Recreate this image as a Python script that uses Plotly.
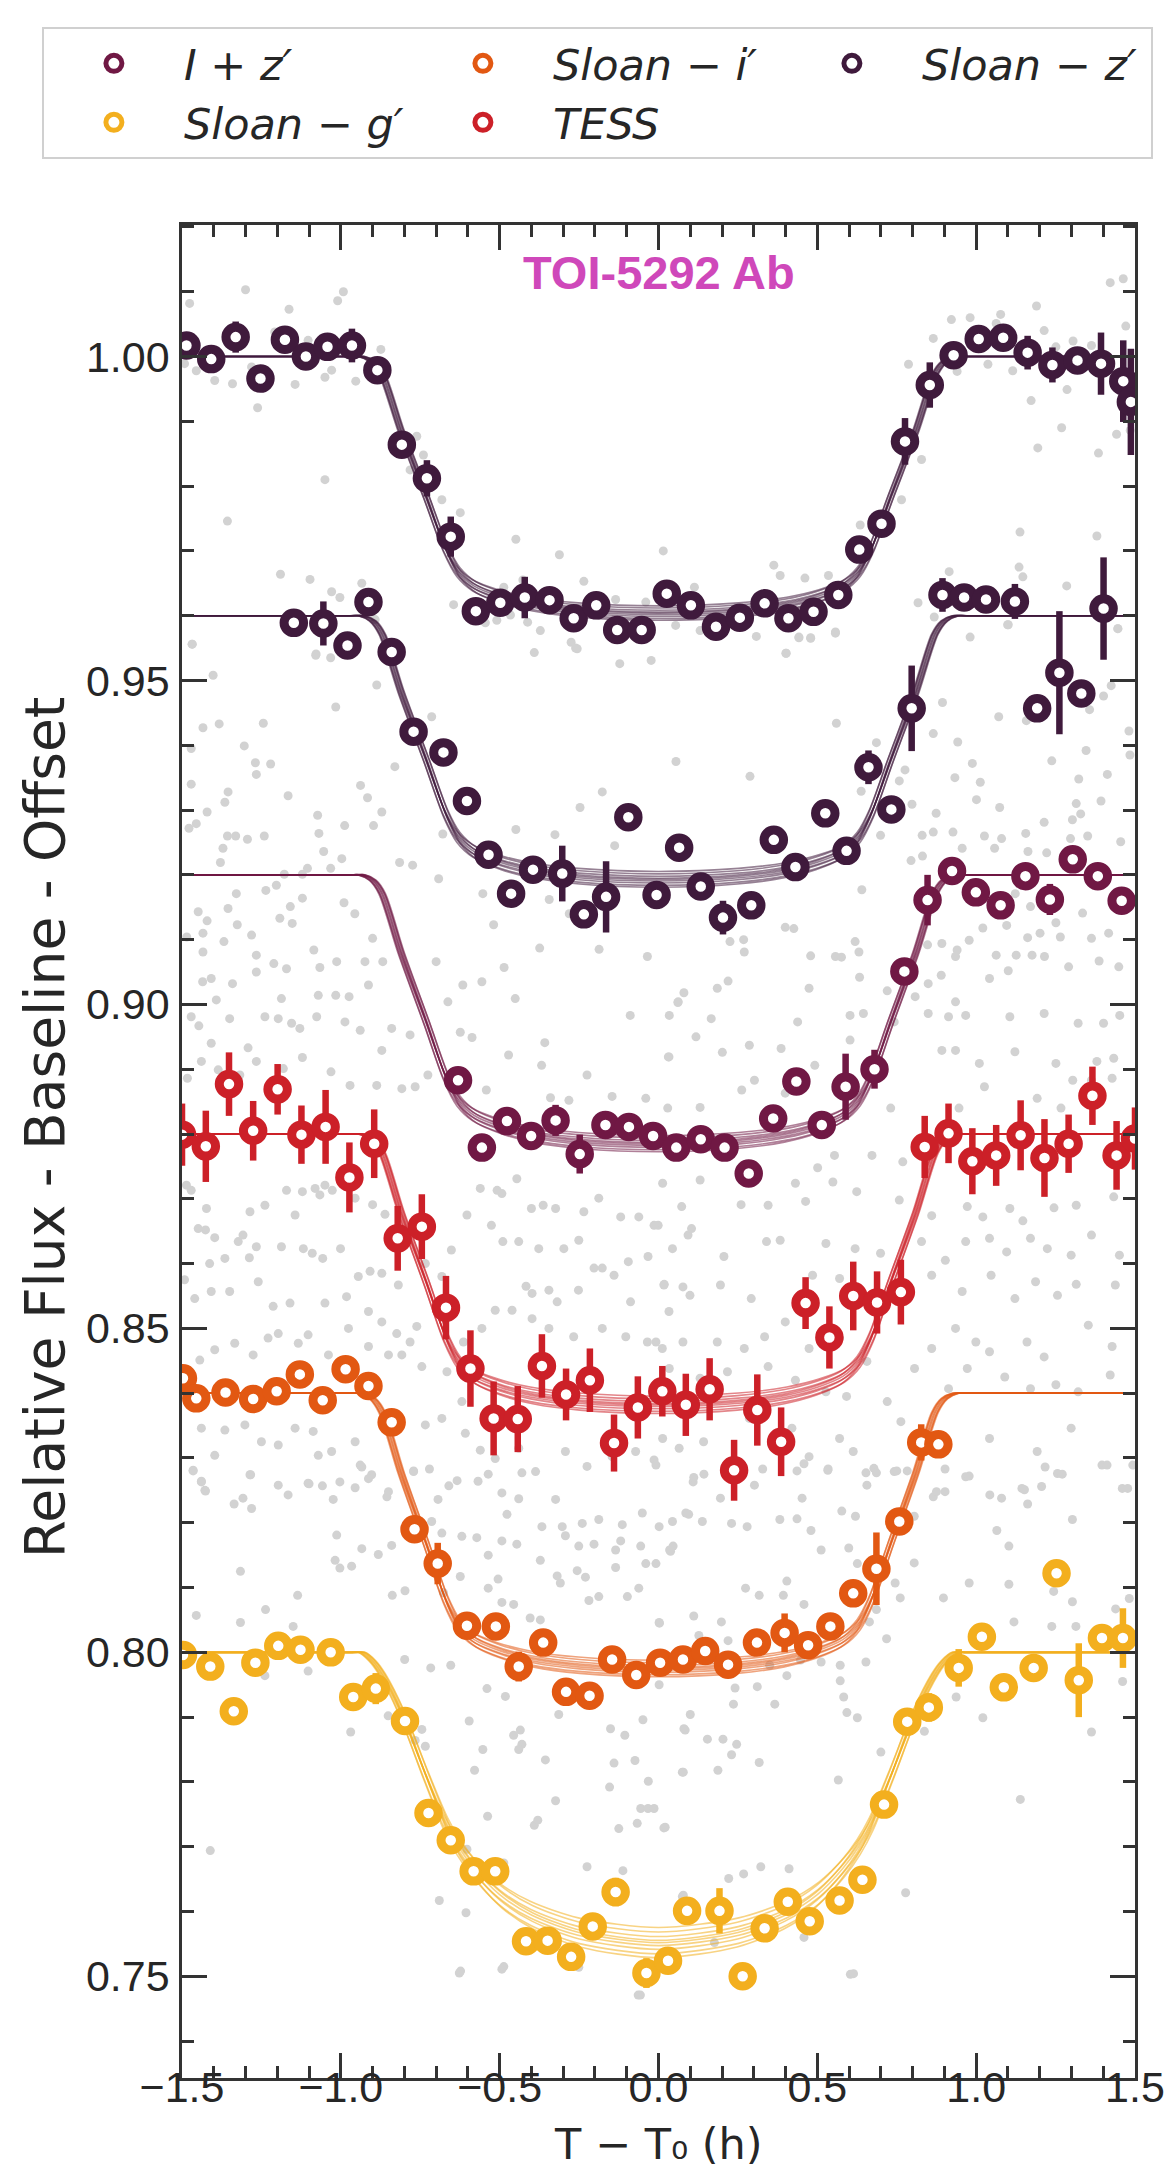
import plotly.graph_objects as go

# ---------------------------------------------------------------------------
# binned light curves (flux already shifted down by each curve's offset)
# ---------------------------------------------------------------------------

# Sloan-z', first night, baseline 1.00
zs1_t = [-1.486, -1.408, -1.331, -1.253, -1.176, -1.110, -1.042, -0.965, -0.885, -0.808,
         -0.729, -0.654, -0.575, -0.498, -0.421, -0.343, -0.267, -0.196, -0.130, -0.053,
         0.026, 0.102, 0.181, 0.256, 0.334, 0.409, 0.488, 0.566, 0.632, 0.702,
         0.776, 0.854, 0.929, 1.008, 1.085, 1.162, 1.240, 1.319, 1.393, 1.463, 1.487]
zs1_f = [1.0017, 0.9996, 1.0030, 0.9966, 1.0026, 1.0000, 1.0015, 1.0017, 0.9979, 0.9864,
         0.9812, 0.9722, 0.9607, 0.9620, 0.9628, 0.9624, 0.9596, 0.9616, 0.9578, 0.9578,
         0.9634, 0.9616, 0.9583, 0.9597, 0.9619, 0.9596, 0.9606, 0.9632, 0.9702, 0.9742,
         0.9869, 0.9956, 1.0002, 1.0027, 1.0029, 1.0006, 0.9987, 0.9994, 0.9989, 0.9962, 0.9930]
zs1_e = [0.0015, 0.0015, 0.0024, 0.0015, 0.0015, 0.0015, 0.0018, 0.0026, 0.0015, 0.0015,
         0.0028, 0.0031, 0.0015, 0.0015, 0.0032, 0.0015, 0.0015, 0.0015, 0.0015, 0.0015,
         0.0015, 0.0015, 0.0015, 0.0015, 0.0015, 0.0015, 0.0015, 0.0015, 0.0015, 0.0015,
         0.0036, 0.0035, 0.0015, 0.0015, 0.0015, 0.0026, 0.0027, 0.0015, 0.0048, 0.0063, 0.0082]

# Sloan-z', second night, baseline 0.96
zs2_t = [-1.148, -1.055, -0.979, -0.913, -0.840, -0.771, -0.677, -0.603, -0.535, -0.464,
         -0.395, -0.303, -0.235, -0.165, -0.095, -0.006, 0.065, 0.133, 0.203, 0.292,
         0.363, 0.431, 0.525, 0.592, 0.661, 0.733, 0.797, 0.894, 0.962, 1.031,
         1.122, 1.192, 1.262, 1.331, 1.401]
zs2_f = [0.9589, 0.9588, 0.9554, 0.9621, 0.9544, 0.9421, 0.9389, 0.9314, 0.9231, 0.9171,
         0.9208, 0.9202, 0.9139, 0.9166, 0.9289, 0.9169, 0.9242, 0.9182, 0.9134, 0.9153,
         0.9254, 0.9212, 0.9295, 0.9237, 0.9366, 0.9301, 0.9457, 0.9632, 0.9628, 0.9625,
         0.9622, 0.9457, 0.9512, 0.9480, 0.9611]
zs2_e = [0.0015, 0.0034, 0.0015, 0.0015, 0.0015, 0.0015, 0.0015, 0.0015, 0.0015, 0.0015,
         0.0015, 0.0043, 0.0015, 0.0055, 0.0015, 0.0015, 0.0015, 0.0015, 0.0026, 0.0015,
         0.0015, 0.0015, 0.0015, 0.0015, 0.0026, 0.0015, 0.0066, 0.0026, 0.0015, 0.0015,
         0.0027, 0.0015, 0.0095, 0.0015, 0.0079]

# I+z', baseline 0.92
iz_t = [-0.631, -0.556, -0.477, -0.401, -0.324, -0.248, -0.167, -0.093, -0.017, 0.056,
        0.133, 0.208, 0.284, 0.361, 0.434, 0.514, 0.589, 0.680, 0.774, 0.847,
        0.924, 0.999, 1.077, 1.155, 1.232, 1.304, 1.383, 1.458]
iz_f = [0.8883, 0.8779, 0.8820, 0.8797, 0.8821, 0.8769, 0.8814, 0.8811, 0.8797, 0.8779,
        0.8792, 0.8779, 0.8739, 0.8824, 0.8881, 0.8814, 0.8873, 0.8900, 0.9051, 0.9161,
        0.9206, 0.9173, 0.9153, 0.9198, 0.9162, 0.9224, 0.9198, 0.9160]
iz_e = [0.0015, 0.0015, 0.0015, 0.0015, 0.0024, 0.0030, 0.0015, 0.0015, 0.0015, 0.0015,
        0.0015, 0.0015, 0.0015, 0.0015, 0.0015, 0.0015, 0.0051, 0.0030, 0.0015, 0.0039,
        0.0015, 0.0015, 0.0015, 0.0015, 0.0024, 0.0015, 0.0015, 0.0015]

# TESS, baseline 0.88
tess_t = [-1.500, -1.425, -1.352, -1.276, -1.199, -1.124, -1.048, -0.973, -0.895, -0.821,
          -0.745, -0.669, -0.592, -0.519, -0.443, -0.367, -0.291, -0.216, -0.140, -0.065,
          0.012, 0.086, 0.161, 0.238, 0.311, 0.386, 0.463, 0.538, 0.613, 0.688,
          0.763, 0.838, 0.913, 0.988, 1.063, 1.140, 1.215, 1.291, 1.366, 1.442, 1.500]
tess_f = [0.8799, 0.8781, 0.8877, 0.8805, 0.8869, 0.8799, 0.8811, 0.8733, 0.8785, 0.8639,
          0.8657, 0.8532, 0.8438, 0.8361, 0.8360, 0.8442, 0.8398, 0.8420, 0.8323, 0.8378,
          0.8403, 0.8382, 0.8406, 0.8281, 0.8374, 0.8325, 0.8539, 0.8486, 0.8550, 0.8540,
          0.8556, 0.8780, 0.8801, 0.8758, 0.8767, 0.8798, 0.8763, 0.8785, 0.8859, 0.8767, 0.8793]
tess_e = [0.0048, 0.0055, 0.0049, 0.0046, 0.0039, 0.0045, 0.0057, 0.0054, 0.0053, 0.0050,
          0.0050, 0.0049, 0.0059, 0.0057, 0.0051, 0.0049, 0.0040, 0.0049, 0.0044, 0.0048,
          0.0039, 0.0048, 0.0048, 0.0047, 0.0055, 0.0053, 0.0040, 0.0048, 0.0053, 0.0048,
          0.0050, 0.0048, 0.0046, 0.0051, 0.0047, 0.0054, 0.0060, 0.0045, 0.0045, 0.0053, 0.0048]

# Sloan-i', baseline 0.84
si_t = [-1.497, -1.455, -1.363, -1.276, -1.202, -1.129, -1.057, -0.985, -0.913, -0.840,
        -0.768, -0.695, -0.603, -0.512, -0.440, -0.363, -0.291, -0.217, -0.146, -0.070,
        0.005, 0.077, 0.147, 0.219, 0.310, 0.397, 0.471, 0.541, 0.613, 0.686,
        0.758, 0.827, 0.881]
si_f = [0.8423, 0.8392, 0.8401, 0.8391, 0.8403, 0.8429, 0.8389, 0.8437, 0.8411, 0.8355,
        0.8190, 0.8137, 0.8041, 0.8040, 0.7978, 0.8015, 0.7939, 0.7933, 0.7989, 0.7965,
        0.7984, 0.7989, 0.8002, 0.7981, 0.8015, 0.8030, 0.8011, 0.8040, 0.8091, 0.8129,
        0.8202, 0.8324, 0.8321]
si_e = [0.0012, 0.0012, 0.0012, 0.0012, 0.0012, 0.0012, 0.0012, 0.0012, 0.0012, 0.0012,
        0.0012, 0.0032, 0.0012, 0.0012, 0.0023, 0.0012, 0.0012, 0.0012, 0.0012, 0.0012,
        0.0012, 0.0012, 0.0012, 0.0012, 0.0012, 0.0030, 0.0012, 0.0012, 0.0012, 0.0056,
        0.0012, 0.0028, 0.0012]

# Sloan-g', baseline 0.80
sg_t = [-1.497, -1.411, -1.337, -1.269, -1.197, -1.127, -1.032, -0.961, -0.890, -0.798,
        -0.724, -0.654, -0.582, -0.514, -0.417, -0.349, -0.275, -0.207, -0.135, -0.038,
        0.030, 0.090, 0.192, 0.265, 0.334, 0.407, 0.476, 0.570, 0.642, 0.710,
        0.783, 0.851, 0.945, 1.018, 1.087, 1.181, 1.253, 1.323, 1.396, 1.462]
sg_f = [0.7996, 0.7978, 0.7909, 0.7984, 0.8010, 0.8004, 0.8000, 0.7931, 0.7944, 0.7894,
        0.7752, 0.7710, 0.7662, 0.7662, 0.7554, 0.7555, 0.7530, 0.7577, 0.7630, 0.7505,
        0.7524, 0.7601, 0.7601, 0.7500, 0.7574, 0.7615, 0.7585, 0.7617, 0.7649, 0.7765,
        0.7893, 0.7915, 0.7976, 0.8024, 0.7946, 0.7976, 0.8122, 0.7957, 0.8022, 0.8022]
sg_e = [0.0012, 0.0012, 0.0012, 0.0012, 0.0012, 0.0020, 0.0012, 0.0012, 0.0024, 0.0012,
        0.0012, 0.0012, 0.0012, 0.0012, 0.0012, 0.0012, 0.0012, 0.0012, 0.0022, 0.0023,
        0.0012, 0.0012, 0.0035, 0.0012, 0.0012, 0.0012, 0.0012, 0.0012, 0.0012, 0.0012,
        0.0012, 0.0022, 0.0029, 0.0012, 0.0012, 0.0012, 0.0012, 0.0057, 0.0012, 0.0046]

# ---------------------------------------------------------------------------
# unbinned measurements of all light curves (grey dots), (time, flux)
# ---------------------------------------------------------------------------
raw_upper = [
    (-1.476, 1.0082), (-1.300, 1.0103), (-0.992, 1.0100), (-1.010, 1.0086), (-1.163, 1.0073),
    (-1.455, 0.9978), (-1.492, 0.9989), (-1.397, 0.9963), (-1.341, 0.9958), (-1.281, 0.9984),
    (-1.262, 0.9921), (-1.144, 0.9957), (-1.050, 0.9968), (-1.029, 0.9979), (-0.953, 0.9962),
    (-0.874, 1.0011), (-1.103, 1.0025), (-1.208, 1.0038), (-1.357, 0.9746), (-1.050, 0.9810),
    (-0.761, 0.9877), (-0.740, 0.9848), (-0.782, 0.9825), (-0.682, 0.9779), (-0.624, 0.9759),
    (-0.449, 0.9718), (-0.312, 0.9694), (0.015, 0.9700), (-0.645, 0.9617), (-0.545, 0.9589),
    (-0.509, 0.9593), (-0.466, 0.9601), (-0.412, 0.9590), (-0.372, 0.9577), (-0.487, 0.9644),
    (-0.235, 0.9653), (-0.135, 0.9625), (-0.040, 0.9621), (0.054, 0.9585), (-1.190, 0.9664),
    (-1.097, 0.9656), (-1.029, 0.9637), (-1.003, 0.9628), (-0.934, 0.9650), (-0.892, 0.9594),
    (-1.468, 0.9556), (-1.078, 0.9541), (-0.391, 0.9543), (-0.275, 0.9559), (-0.256, 0.9549),
    (-0.293, 0.9590), (-0.427, 0.9655),
    (1.422, 1.0114), (1.463, 1.0120), (1.471, 1.0047), (1.190, 1.0078), (1.214, 1.0040),
    (0.922, 1.0057), (0.981, 1.0060), (1.077, 1.0065), (0.865, 1.0028), (0.787, 0.9988),
    (1.037, 0.9988), (1.115, 0.9978), (0.940, 0.9977), (1.286, 0.9949), (1.173, 0.9932),
    (1.269, 0.9890), (1.194, 0.9859), (1.442, 0.9880), (1.385, 0.9851), (1.485, 0.9886),
    (0.828, 0.9841), (0.765, 0.9779), (1.138, 0.9729), (1.380, 0.9723), (0.635, 0.9740),
    (0.363, 0.9678), (0.383, 0.9662), (0.461, 0.9658), (0.535, 0.9662), (1.135, 0.9675),
    (1.147, 0.9660), (1.285, 0.9646), (0.915, 0.9668), (0.817, 0.9620), (0.868, 0.9598),
    (0.981, 0.9567), (1.101, 0.9586), (1.446, 0.9580), (0.557, 0.9573), (0.442, 0.9566),
    (0.479, 0.9565), (0.308, 0.9568), (0.402, 0.9542), (0.113, 0.9644), (0.131, 0.9577),
    (1.251, 1.0015), (1.305, 1.0024), (1.363, 1.0017), (1.063, 1.0051),
]
raw_middle = [
    (-1.468, 0.9556), (-1.402, 0.9508), (-1.434, 0.9427), (-1.383, 0.9433), (-1.244, 0.9434),
    (-1.304, 0.9399), (-1.471, 0.9395), (-1.269, 0.9373), (-1.221, 0.9371), (-1.266, 0.9355),
    (-1.471, 0.9340), (-1.355, 0.9328), (-1.365, 0.9312), (-1.421, 0.9297), (-1.455, 0.9279),
    (-1.478, 0.9272), (-1.357, 0.9260), (-1.331, 0.9260), (-1.294, 0.9255), (-1.241, 0.9260),
    (-1.371, 0.9241), (-1.379, 0.9219), (-1.166, 0.9322), (-1.073, 0.9292), (-1.069, 0.9264),
    (-1.054, 0.9236), (-0.997, 0.9225), (-0.988, 0.9276), (-0.938, 0.9338), (-0.916, 0.9319),
    (-0.897, 0.9276), (-0.871, 0.9297), (-0.887, 0.9493), (-1.016, 0.9459), (-0.830, 0.9367),
    (-0.714, 0.9444), (-0.815, 0.9219), (-0.774, 0.9215), (-0.692, 0.9194), (-0.679, 0.9263),
    (-0.449, 0.9270), (-0.326, 0.9262), (-0.247, 0.9304), (-0.177, 0.9328), (-0.138, 0.9245),
    (0.055, 0.9375), (-0.553, 0.9171), (-0.344, 0.9162), (-0.281, 0.9140), (-0.519, 0.9123),
    (-0.374, 0.9087), (-0.187, 0.9085), (-0.035, 0.9074), (-0.122, 0.9526), (-0.023, 0.9531),
    (-0.261, 0.9550), (-1.079, 0.9539), (-1.032, 0.9535), (-1.485, 0.9104), (-1.449, 0.9143),
    (-1.421, 0.9129), (-1.434, 0.9110), (-1.434, 0.9081), (-1.368, 0.9097), (-1.326, 0.9123),
    (-1.281, 0.9107), (-1.266, 0.9076), (-1.211, 0.9063), (-1.171, 0.9055), (-1.121, 0.9164),
    (-1.159, 0.9151), (-1.192, 0.9133), (-1.153, 0.9125), (-1.085, 0.9084), (-1.066, 0.9057),
    (-1.013, 0.9066), (-0.990, 0.9157), (-0.956, 0.9140), (-0.900, 0.9102), (-0.924, 0.9066),
    (-0.868, 0.9066), (-0.913, 0.9030), (-0.974, 0.9012), (-1.016, 0.9014), (-1.071, 0.9014),
    (-1.187, 0.9009), (-1.266, 0.9050), (-1.329, 0.9171), (-1.355, 0.9148), (-1.392, 0.9007),
    (-1.435, 0.9035), (-1.408, 0.9040), (-1.341, 0.9032), (-1.236, 0.9176), (-1.203, 0.9184),
    (-1.178, 0.9201), (-1.121, 0.9201), (-1.032, 0.9210), (-1.105, 0.9210), (-0.486, 0.9057),
    (-0.451, 0.9009), (-0.556, 0.9035), (-0.616, 0.9030), (-0.663, 0.9004), (-0.700, 0.9066),
    (0.062, 0.9004),
    (0.288, 0.9352), (0.401, 0.9542), (0.557, 0.9575), (0.442, 0.9567), (0.479, 0.9566),
    (0.560, 0.9434), (0.686, 0.9404), (0.776, 0.9362), (0.758, 0.9345), (0.638, 0.9329),
    (0.798, 0.9309), (0.699, 0.9261), (0.830, 0.9261), (0.795, 0.9222), (0.831, 0.9229),
    (0.865, 0.9266), (0.927, 0.9266), (0.874, 0.9295), (0.894, 0.9466), (0.865, 0.9418),
    (0.942, 0.9405), (0.988, 0.9372), (0.933, 0.9350), (1.013, 0.9343), (1.001, 0.9316),
    (1.074, 0.9304), (1.071, 0.9444), (1.158, 0.9438), (1.238, 0.9376), (1.346, 0.9392),
    (1.323, 0.9348), (1.413, 0.9355), (1.393, 0.9314), (1.315, 0.9310), (1.329, 0.9294),
    (1.303, 0.9285), (1.214, 0.9281), (1.026, 0.9260), (1.080, 0.9256), (1.156, 0.9264),
    (1.058, 0.9241), (1.163, 0.9236), (1.222, 0.9234), (1.297, 0.9256), (1.351, 0.9260),
    (1.455, 0.9251), (1.481, 0.9422), (1.484, 0.9385), (1.425, 0.9492), (1.401, 0.9476),
    (1.357, 0.9455), (1.446, 0.9580), (1.099, 0.9586), (0.956, 0.9241), (1.123, 0.9171),
    (1.171, 0.9151), (1.251, 0.9126), (1.335, 0.9141), (1.417, 0.9110), (1.363, 0.9102),
    (1.265, 0.9104), (1.201, 0.9110), (1.162, 0.9103), (1.096, 0.9122), (1.021, 0.9118),
    (0.978, 0.9099), (0.892, 0.9094), (0.940, 0.9084), (0.847, 0.9092), (0.935, 0.9074),
    (1.063, 0.9076), (1.126, 0.9076), (1.176, 0.9076), (1.215, 0.9074), (1.291, 0.9058),
    (1.387, 0.9067), (1.449, 0.9058), (1.101, 0.9052), (1.042, 0.9040), (0.890, 0.9045),
    (0.849, 0.9032), (0.720, 0.9021), (0.619, 0.9097), (0.631, 0.9081), (0.479, 0.9075),
    (0.557, 0.9074), (0.576, 0.9073), (0.633, 0.9042), (0.474, 0.9025), (0.399, 0.9119),
    (0.426, 0.9117), (0.270, 0.9081), (0.268, 0.9100), (0.225, 0.9097), (0.219, 0.9036),
    (0.185, 0.9025), (0.080, 0.9018), (0.061, 0.9003), (0.640, 0.9177), (0.808, 0.9012),
    (0.935, 0.9004),
]
raw_centre = [
    (-1.471, 0.8981), (-1.447, 0.8967), (-1.408, 0.8940), (-1.350, 0.8978), (-1.292, 0.8933),
    (-1.239, 0.8981), (-1.197, 0.8978), (-1.155, 0.8971), (-1.129, 0.8963), (-1.076, 0.8981),
    (-0.987, 0.8973), (-0.939, 0.8960), (-0.871, 0.8929), (-0.840, 0.8963), (-0.782, 0.8953),
    (-0.624, 0.8957), (-0.587, 0.8949), (-0.472, 0.8922), (-0.358, 0.8941), (-0.368, 0.8906),
    (-0.225, 0.8891), (0.033, 0.8919), (-0.089, 0.8983), (-1.439, 0.8912), (-1.483, 0.8886),
    (-1.386, 0.8899), (-1.318, 0.8891), (-1.266, 0.8912), (-1.181, 0.8901), (-1.121, 0.8918),
    (-1.031, 0.8896), (-0.971, 0.8875), (-0.887, 0.8875), (-0.808, 0.8870), (-0.766, 0.8873),
    (-0.726, 0.8891), (-0.542, 0.8868), (-0.340, 0.8856), (-0.282, 0.8852), (-0.146, 0.8858),
    (-0.040, 0.8855), (-1.486, 0.8721), (-1.471, 0.8713), (-1.423, 0.8685), (-1.426, 0.8652),
    (-1.449, 0.8654), (-1.397, 0.8640), (-1.323, 0.8634), (-1.308, 0.8644), (-1.266, 0.8626),
    (-1.288, 0.8609), (-1.365, 0.8608), (-1.413, 0.8600), (-1.171, 0.8713), (-1.121, 0.8711),
    (-1.081, 0.8716), (-1.050, 0.8721), (-1.066, 0.8706), (-1.027, 0.8713), (-0.955, 0.8701),
    (-0.900, 0.8691), (-0.861, 0.8676), (-1.144, 0.8675), (-1.286, 0.8680), (-1.239, 0.8690),
    (-1.187, 0.8626), (-1.118, 0.8623), (-1.090, 0.8616), (-1.057, 0.8608), (-1.001, 0.8623),
    (-0.945, 0.8580), (-0.908, 0.8588), (-0.871, 0.8585), (-0.819, 0.8567), (-0.734, 0.8600),
    (-0.682, 0.8580), (-0.652, 0.8621), (-0.603, 0.8675), (-0.561, 0.8716), (-0.508, 0.8713),
    (-0.493, 0.8708), (-0.446, 0.8731), (-0.400, 0.8685), (-0.363, 0.8690), (-0.324, 0.8685),
    (-0.235, 0.8680), (-0.188, 0.8701), (-0.119, 0.8672), (-0.062, 0.8672), (-0.001, 0.8659),
    (0.073, 0.8688), (-0.526, 0.8659), (-0.490, 0.8634), (-0.440, 0.8634), (-0.377, 0.8623),
    (-0.298, 0.8623), (-0.251, 0.8636), (-0.177, 0.8593), (-0.095, 0.8603), (-0.033, 0.8611),
    (0.044, 0.8623), (0.093, 0.8644), (-0.417, 0.8565), (-0.398, 0.8554), (-0.345, 0.8559),
    (-0.319, 0.8541), (-0.252, 0.8559), (-0.203, 0.8593), (-0.140, 0.8582), (-0.088, 0.8541),
    (0.017, 0.8567), (0.033, 0.8526), (0.077, 0.8564), (-0.177, 0.8500), (-0.267, 0.8487),
    (-0.345, 0.8500), (-0.398, 0.8515), (-0.461, 0.8528), (-0.514, 0.8528), (-0.556, 0.8500),
    (-0.614, 0.8479), (-0.103, 0.8487), (-0.035, 0.8479), (0.012, 0.8469), (-1.492, 0.8575),
    (-1.460, 0.8546), (-1.408, 0.8557), (-1.350, 0.8557), (-1.260, 0.8572), (-1.213, 0.8534),
    (-1.160, 0.8539), (-1.050, 0.8539), (-0.982, 0.8549), (-0.913, 0.8526), (-0.871, 0.8510),
    (-0.824, 0.8492), (-0.782, 0.8479), (-0.761, 0.8503), (-0.682, 0.8523), (-0.666, 0.8433),
    (-0.608, 0.8338), (-0.561, 0.8312), (-0.514, 0.8299), (-0.440, 0.8315), (-0.387, 0.8279),
    (-0.293, 0.8310), (-0.225, 0.8287), (-0.146, 0.8302), (-0.072, 0.8310), (-0.014, 0.8297),
    (0.065, 0.8315), (-0.619, 0.8387), (-0.682, 0.8361), (-0.734, 0.8351), (-0.771, 0.8279),
    (-0.850, 0.8248), (-0.903, 0.8274), (-0.955, 0.8325), (-1.029, 0.8310), (-1.071, 0.8304),
    (-1.087, 0.8341), (-1.144, 0.8346), (-1.197, 0.8320), (-1.250, 0.8325), (-1.302, 0.8351),
    (-1.365, 0.8343), (-1.439, 0.8346), (-1.465, 0.8281), (-1.439, 0.8263), (-1.428, 0.8250),
    (-1.397, 0.8304), (-1.308, 0.8238), (-1.286, 0.8274), (-1.197, 0.8258), (-1.166, 0.8243),
    (-1.103, 0.8261), (-1.003, 0.8263), (-0.939, 0.8289), (-0.850, 0.8459), (-0.808, 0.8459),
    (-0.745, 0.8441), (-0.913, 0.8472), (-0.976, 0.8500), (-1.039, 0.8459), (-1.103, 0.8490),
    (-1.134, 0.8477), (-1.197, 0.8492), (-1.229, 0.8485), (-1.276, 0.8459), (-1.334, 0.8477),
    (-1.397, 0.8467), (-1.444, 0.8451),
    (0.034, 0.8983), (0.166, 0.8978), (0.438, 0.8973), (0.603, 0.8983), (0.645, 0.8986),
    (0.849, 0.8986), (0.913, 0.8981), (0.967, 0.8983), (1.106, 0.8981), (1.214, 0.8986),
    (1.321, 0.8971), (1.401, 0.8971), (1.452, 0.8983), (0.031, 0.8919), (0.118, 0.8950),
    (0.201, 0.8926), (0.286, 0.8937), (0.386, 0.8932), (0.492, 0.8906), (0.603, 0.8945),
    (0.742, 0.8973), (0.892, 0.8929), (0.935, 0.8929), (1.010, 0.8909), (1.122, 0.8927),
    (1.251, 0.8909), (1.380, 0.8912), (1.433, 0.8917), (0.029, 0.8840), (0.131, 0.8841),
    (0.262, 0.8868), (0.302, 0.8883), (0.399, 0.8863), (0.501, 0.8748), (0.554, 0.8767),
    (0.672, 0.8767), (0.731, 0.8840), (0.769, 0.8757), (0.946, 0.8840), (1.026, 0.8873),
    (1.192, 0.8855), (1.304, 0.8883), (1.363, 0.8883), (1.428, 0.8886), (1.267, 0.8840),
    (0.013, 0.8724), (0.131, 0.8729), (0.260, 0.8691), (0.345, 0.8690), (0.431, 0.8724),
    (0.463, 0.8696), (0.549, 0.8726), (0.624, 0.8711), (0.758, 0.8698), (0.860, 0.8674),
    (0.972, 0.8688), (1.021, 0.8672), (1.106, 0.8685), (1.147, 0.8666), (1.245, 0.8686),
    (1.315, 0.8690), (1.363, 0.8644), (1.433, 0.8703), (-0.014, 0.8659), (0.104, 0.8654),
    (0.206, 0.8611), (0.340, 0.8634), (0.383, 0.8636), (0.527, 0.8631), (0.619, 0.8623),
    (0.699, 0.8616), (0.828, 0.8634), (0.903, 0.8605), (0.967, 0.8634), (1.042, 0.8639),
    (1.096, 0.8618), (1.171, 0.8639), (1.224, 0.8623), (1.299, 0.8613), (1.451, 0.8613),
    (0.018, 0.8568), (0.099, 0.8551), (0.195, 0.8567), (0.292, 0.8546), (0.485, 0.8582),
    (0.570, 0.8577), (0.603, 0.8562), (0.860, 0.8582), (0.956, 0.8557), (1.047, 0.8582),
    (1.122, 0.8546), (1.187, 0.8572), (1.256, 0.8551), (1.315, 0.8568), (1.438, 0.8567),
    (-0.008, 0.8479), (0.077, 0.8479), (0.185, 0.8479), (0.270, 0.8469), (0.334, 0.8487),
    (0.399, 0.8510), (0.474, 0.8469), (0.570, 0.8485), (0.656, 0.8449), (0.860, 0.8469),
    (0.935, 0.8500), (0.999, 0.8479), (1.042, 0.8464), (1.160, 0.8479), (1.214, 0.8456),
    (1.353, 0.8505), (1.428, 0.8472), (0.034, 0.8438), (0.131, 0.8423), (0.217, 0.8433),
    (0.345, 0.8441), (0.431, 0.8420), (0.527, 0.8402), (0.592, 0.8395), (0.720, 0.8387),
    (0.806, 0.8438), (0.913, 0.8407), (0.972, 0.8438), (1.090, 0.8425), (1.171, 0.8407),
    (1.251, 0.8413), (1.321, 0.8402), (1.422, 0.8428), (0.013, 0.8330), (0.142, 0.8325),
    (0.286, 0.8361), (0.420, 0.8346), (0.474, 0.8302), (0.570, 0.8330), (0.613, 0.8310),
    (0.678, 0.8284), (0.763, 0.8356), (0.967, 0.8271), (1.042, 0.8330), (1.144, 0.8253),
    (1.192, 0.8310), (1.299, 0.8346), (1.396, 0.8289), (1.460, 0.8253), (0.109, 0.8263),
    (0.195, 0.8238), (0.302, 0.8258), (0.452, 0.8238), (0.533, 0.8281), (0.656, 0.8258),
    (0.742, 0.8279), (0.865, 0.8240), (1.080, 0.8238), (1.256, 0.8276),
]
raw_lower = [
    (-1.465, 0.8280), (-1.439, 0.8264), (-1.426, 0.8249), (-1.284, 0.8274), (-1.336, 0.8229),
    (-1.281, 0.8222), (-1.100, 0.8260), (-1.058, 0.8257), (-1.024, 0.8236), (-0.934, 0.8286),
    (-0.913, 0.8268), (-0.955, 0.8254), (-0.855, 0.8240), (-0.771, 0.8280), (-0.721, 0.8283),
    (-0.694, 0.8236), (-0.660, 0.8257), (-0.634, 0.8265), (-0.568, 0.8264), (-0.536, 0.8275),
    (-0.493, 0.8246), (-0.477, 0.8213), (-0.430, 0.8277), (-0.440, 0.8237), (-0.367, 0.8194),
    (-0.324, 0.8236), (-0.303, 0.8194), (-0.240, 0.8199), (-0.188, 0.8205), (-0.135, 0.8158),
    (-0.114, 0.8197), (-0.051, 0.8215), (0.002, 0.8194), (0.044, 0.8202), (0.086, 0.8215),
    (-0.056, 0.8164), (0.038, 0.8156), (-0.119, 0.8172), (-0.251, 0.8164), (-0.203, 0.8167),
    (-0.293, 0.8180), (-0.372, 0.8142), (-0.446, 0.8167), (-0.493, 0.8172), (-0.536, 0.8150),
    (-0.572, 0.8177), (-0.619, 0.8179), (-0.682, 0.8184), (-0.714, 0.8202), (-0.840, 0.8165),
    (-0.882, 0.8151), (-0.934, 0.8160), (-1.013, 0.8181), (-1.018, 0.8142), (-1.003, 0.8130),
    (-0.966, 0.8133), (-1.316, 0.8125), (-1.136, 0.8088), (-1.237, 0.8066), (-1.316, 0.8046),
    (-1.455, 0.8057), (-1.150, 0.8040), (-0.838, 0.8088), (-0.798, 0.8095), (-0.677, 0.8092),
    (-0.624, 0.8117), (-0.536, 0.8099), (-0.505, 0.8113), (-0.493, 0.8077), (-0.456, 0.8074),
    (-0.404, 0.8053), (-0.372, 0.8050), (-0.319, 0.8118), (-0.309, 0.8107), (-0.256, 0.8126),
    (-0.230, 0.8116), (-0.219, 0.8080), (-0.188, 0.8086), (-0.135, 0.8131), (-0.098, 0.8086),
    (-0.040, 0.8137), (0.002, 0.8046), (-0.062, 0.8099), (-0.456, 0.7974), (-0.482, 0.7932),
    (-0.540, 0.7944), (-0.596, 0.7894), (-0.553, 0.7850), (-0.435, 0.7880), (-0.456, 0.7872),
    (-0.430, 0.7858), (-0.440, 0.7850), (-0.314, 0.7904), (-0.356, 0.7834), (-0.151, 0.7882),
    (-0.106, 0.7872), (-0.049, 0.7896), (0.002, 0.7950), (0.080, 0.7882), (0.075, 0.7815),
    (-0.140, 0.7829), (-0.074, 0.7833), (-0.032, 0.7801), (-0.154, 0.7792), (-0.324, 0.7771),
    (-0.056, 0.7759), (-0.033, 0.7759), (-0.125, 0.7728), (-0.067, 0.7736), (0.017, 0.7729),
    (-0.391, 0.7733), (-0.380, 0.7741), (-0.538, 0.7747), (-0.579, 0.7818), (-0.745, 0.7881),
    (-0.734, 0.7855), (-0.766, 0.7864), (-0.851, 0.7902), (-0.969, 0.7877), (-0.799, 0.7989),
    (-0.717, 0.7976), (-0.654, 0.7980), (-1.239, 0.7964), (-1.103, 0.7971), (-1.411, 0.7694),
    (-0.690, 0.7617), (-0.606, 0.7598), (-0.627, 0.7505), (-0.493, 0.7511), (-0.225, 0.7669),
    (-0.112, 0.7663), (-0.064, 0.7471), (0.075, 0.7623), (-0.603, 0.7696), (-0.487, 0.7675),
    (-0.251, 0.7514),
    (-0.008, 0.8289), (0.111, 0.8270), (0.143, 0.8275), (0.328, 0.8283), (0.436, 0.8280),
    (0.458, 0.8291), (0.534, 0.8283), (0.653, 0.8277), (0.686, 0.8277), (0.750, 0.8280),
    (0.783, 0.8280), (0.902, 0.8283), (0.978, 0.8272), (1.217, 0.8286), (1.271, 0.8275),
    (1.412, 0.8289), (1.493, 0.8289), (1.477, 0.8253), (1.162, 0.8229), (1.152, 0.8251),
    (1.206, 0.8256), (1.043, 0.8243), (1.303, 0.8205), (1.065, 0.8188), (1.103, 0.8164),
    (0.805, 0.8138), (0.875, 0.8248), (0.902, 0.8248), (0.897, 0.8084), (0.978, 0.8107),
    (1.103, 0.8105), (1.119, 0.8047), (1.238, 0.8040), (1.314, 0.8040), (1.244, 0.8094),
    (1.303, 0.8078), (1.439, 0.8067), (1.482, 0.8083), (0.805, 0.8210), (0.745, 0.8107),
    (0.761, 0.8084), (0.718, 0.8021), (0.653, 0.7985), (0.664, 0.8047), (0.686, 0.8066),
    (0.572, 0.7980), (0.572, 0.7956), (0.583, 0.7931), (0.593, 0.7907), (0.626, 0.7899),
    (0.404, 0.7964), (0.366, 0.7920), (0.236, 0.7920), (0.241, 0.7945), (0.311, 0.7947),
    (0.100, 0.7904), (0.084, 0.7880), (0.154, 0.7866), (0.203, 0.7866), (0.246, 0.7858),
    (0.230, 0.7842), (0.187, 0.7818), (0.078, 0.7815), (0.317, 0.7830), (0.566, 0.7803),
    (0.700, 0.7846), (0.837, 0.7878), (0.937, 0.7931), (1.021, 0.7899), (1.363, 0.7877),
    (1.461, 0.7955), (1.139, 0.7773), (0.778, 0.7629), (0.604, 0.7503), (0.176, 0.7552),
    (0.268, 0.7658), (0.322, 0.7669), (0.411, 0.7666), (0.221, 0.7651), (0.078, 0.7625),
    (0.458, 0.7560), (0.021, 0.7730), (-0.014, 0.7759), (-0.008, 0.8137), (0.046, 0.8164),
    (0.111, 0.8056), (0.198, 0.8047), (0.274, 0.8099), (0.404, 0.8110), (0.458, 0.8074),
    (0.512, 0.8158), (0.599, 0.8161), (0.626, 0.8137), (0.577, 0.8218), (0.620, 0.8210),
    (0.480, 0.8188), (0.436, 0.8206), (0.382, 0.8205), (0.279, 0.8194), (0.230, 0.8199),
    (0.138, 0.8202), (0.095, 0.8213), (0.035, 0.8158), (0.317, 0.8088), (0.393, 0.8088),
    (0.003, 0.8045), (0.127, 0.8026), (0.219, 0.8018), (0.350, 0.7980), (0.447, 0.7988),
    (0.512, 0.7985),
    (-0.623, 0.7508), (-0.487, 0.7515), (-0.057, 0.7471), (0.614, 0.7504),
]

# ---------------------------------------------------------------------------
# transit model: time knots (h) and fraction of full depth
# ---------------------------------------------------------------------------
model_t = [-1.5, -0.96, -0.935, -0.90, -0.87, -0.81, -0.73, -0.67, -0.63, -0.58, -0.50, -0.40,
           -0.25, 0.0, 0.25, 0.40, 0.50, 0.58, 0.63, 0.67, 0.73, 0.81, 0.87, 0.90, 0.935, 0.96, 1.5]
shape_red = [0, 0, 0, 0.02, 0.07, 0.29, 0.55, 0.75, 0.84, 0.895, 0.935, 0.965,
             0.988, 1.0, 0.988, 0.965, 0.935, 0.895, 0.84, 0.75, 0.55, 0.29, 0.07, 0.02, 0, 0, 0]
shape_blue = [0, 0, 0, 0.03, 0.075, 0.205, 0.43, 0.59, 0.67, 0.745, 0.835, 0.905,
              0.965, 1.0, 0.965, 0.905, 0.835, 0.745, 0.67, 0.59, 0.43, 0.205, 0.075, 0.03, 0, 0, 0]
# posterior draws: relative depth change (scaled per band) and duration change
draw_depth = [-1.0, -0.7, -0.4, -0.15, 0.0, 0.2, 0.45, 0.75, 1.0]
draw_dur = [0.010, -0.008, 0.004, -0.012, 0.0, 0.012, -0.004, 0.008, -0.010]

# one entry per light curve, top to bottom
band_label = ["Sloan-z'", "Sloan-z'", "I+z'", "TESS", "Sloan-i'", "Sloan-g'"]
band_base = [1.00, 0.96, 0.92, 0.88, 0.84, 0.80]
band_depth = [0.0396, 0.0407, 0.0415, 0.0418, 0.0425, 0.0448]
band_spread = [0.028, 0.030, 0.030, 0.032, 0.030, 0.052]
band_t = [zs1_t, zs2_t, iz_t, tess_t, si_t, sg_t]
band_f = [zs1_f, zs2_f, iz_f, tess_f, si_f, sg_f]
band_e = [zs1_e, zs2_e, iz_e, tess_e, si_e, sg_e]

legend_text = {
    "I+z'": "<i>I + z′</i>",
    "Sloan-i'": "<i>Sloan − i′</i>",
    "Sloan-z'": "<i>Sloan − z′</i>",
    "Sloan-g'": "<i>Sloan − g′</i>",
    "TESS": "<i>TESS</i>",
}
legend_rank = {"I+z'": 1, "Sloan-i'": 2, "Sloan-z'": 3, "Sloan-g'": 4, "TESS": 5}
colors = {
    "Sloan-z'": (63, 26, 60),
    "I+z'": (112, 24, 68),
    "TESS": (204, 32, 40),
    "Sloan-i'": (226, 88, 18),
    "Sloan-g'": (243, 175, 30),
}

title_text = "TOI-5292 Ab"
x_title = "T \u2212 T\u2080 (h)"
y_title = "Relative Flux - Baseline - Offset"


def rgba(c, a):
    return "rgba(%d,%d,%d,%.2f)" % (c[0], c[1], c[2], a)


def model_lines(base, depth, spread, shape):
    xs, ys = [], []
    for k, w in zip(draw_depth, draw_dur):
        d = depth * (1 + spread * k)
        for t, f in zip(model_t, shape):
            xs.append(t if abs(t) >= 1.5 else t * (1 + w))
            ys.append(base - d * f)
        xs.append(None)
        ys.append(None)
    return xs, ys


fig = go.Figure()

raw = raw_upper + raw_middle + raw_centre + raw_lower
fig.add_trace(go.Scatter(
    x=[p[0] for p in raw], y=[p[1] for p in raw], mode="markers",
    marker=dict(size=9, color="#d2d2d2"), showlegend=False, hoverinfo="skip"))

for lab, base, depth, spread in zip(band_label, band_base, band_depth, band_spread):
    shape = shape_blue if lab == "Sloan-g'" else shape_red
    mx, my = model_lines(base, depth, spread, shape)
    fig.add_trace(go.Scatter(
        x=mx, y=my, mode="lines", showlegend=False, hoverinfo="skip",
        line=dict(color=rgba(colors[lab], 0.55), width=1.6, shape="spline", smoothing=0.8)))

seen = set()
for lab, t, f, e in zip(band_label, band_t, band_f, band_e):
    c = rgba(colors[lab], 1)
    fig.add_trace(go.Scatter(
        x=t, y=f, mode="markers", name=legend_text[lab],
        legendrank=legend_rank[lab], showlegend=lab not in seen,
        marker=dict(symbol="circle", size=19.5, color="white", line=dict(color=c, width=9)),
        error_y=dict(type="data", array=e, visible=True, thickness=6.5, width=0, color=c)))
    seen.add(lab)

fig.add_annotation(x=0, y=1.0130, xref="x", yref="y", text="<b>%s</b>" % title_text,
                   showarrow=False, font=dict(family="Liberation Sans, Arial", size=47, color="#CF48BA"))
fig.add_annotation(x=0.5, y=-0.0216, xref="paper", yref="paper", text=x_title,
                   showarrow=False, xanchor="center", yanchor="top", borderpad=0,
                   font=dict(family="DejaVu Sans", size=43, color="#262626"))
fig.add_annotation(x=-0.1438, y=0.513, xref="paper", yref="paper", text=y_title, textangle=-90,
                   showarrow=False, xanchor="center", yanchor="middle", borderpad=0,
                   font=dict(family="DejaVu Sans", size=55, color="#262626"))

axis_common = dict(
    showline=True, linecolor="#333333", linewidth=2.5, mirror="allticks",
    ticks="inside", ticklen=25, tickwidth=2.5, tickcolor="#333333",
    showgrid=False, zeroline=False,
    tickfont=dict(family="Liberation Sans, Arial", size=43, color="#262626"),
)
fig.update_xaxes(range=[-1.5, 1.5], tickmode="linear", tick0=-1.5, dtick=0.5, tickformat=".1f",
                 minor=dict(dtick=0.1, ticks="inside", ticklen=12, tickwidth=2.5, tickcolor="#333333"),
                 ticklabelstandoff=-30, **axis_common)
fig.update_yaxes(range=[0.7343, 1.0203], tickmode="linear", tick0=0.75, dtick=0.05, tickformat=".2f",
                 minor=dict(dtick=0.01, ticks="inside", ticklen=12, tickwidth=2.5, tickcolor="#333333"),
                 ticklabelstandoff=1, **axis_common)

fig.update_layout(
    width=1176, height=2167,
    margin=dict(l=174, r=49, t=217, b=97, autoexpand=False),
    plot_bgcolor="white", paper_bgcolor="white",
    legend=dict(orientation="h", x=-0.147, xanchor="left", y=1.1069, yanchor="top",
                bgcolor="white", bordercolor="#d0d0d0", borderwidth=2,
                font=dict(family="DejaVu Sans", size=43, color="#262626"),
                entrywidth=224, entrywidthmode="pixels", itemwidth=130, traceorder="normal"),
)

fig.write_html("out.html")
